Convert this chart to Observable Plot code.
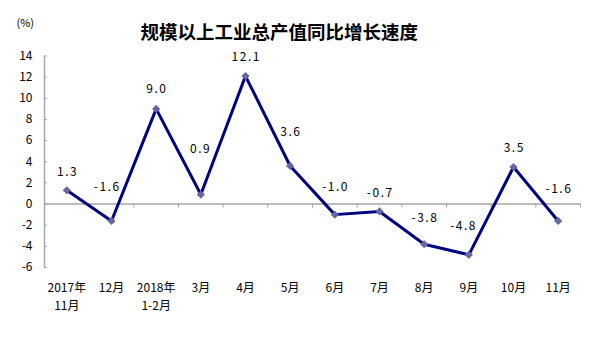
<!DOCTYPE html>
<html>
<head>
<meta charset="utf-8">
<script src="https://cdn.jsdelivr.net/npm/d3@7"></script>
<script src="https://cdn.jsdelivr.net/npm/@observablehq/plot@0.6"></script>
<style>
  html, body { margin: 0; padding: 0; background: #fff; }
</style>
</head>
<body>
<div id="chart"></div>
<script>
const title = "规模以上工业总产值同比增长速度";
const unitLabel = "(%)";
const categories = ["2017年\n11月", "12月", "2018年\n1-2月", "3月", "4月", "5月", "6月", "7月", "8月", "9月", "10月", "11月"];
const values = [1.3, -1.6, 9.0, 0.9, 12.1, 3.6, -1.0, -0.7, -3.8, -4.8, 3.5, -1.6];
const valueLabels = ["1.3", "-1.6", "9.0", "0.9", "12.1", "3.6", "-1.0", "-0.7", "-3.8", "-4.8", "3.5", "-1.6"];
const yTicks = [-6, -4, -2, 0, 2, 4, 6, 8, 10, 12, 14];

// label nudges (style only, pixels)
const labelDy = [-18, -34, -20, -45, -19, -34, -27, -18, -26, -29, -19, -32];
const labelDx = [0, -5, 0, -1, 0, 0, 0, 0, 0, -6, 0, 0];

const data = values.map((v, i) => ({i, pos: i + 0.5, value: v, label: valueLabels[i], cat: categories[i]}));
const boundaries = d3.range(0, categories.length + 1);

const font = "'Noto Sans CJK SC', 'DejaVu Sans', sans-serif";
const gray = "#a6a6a6";

const labelMarks = data.map((d, k) => Plot.text([d], {
  x: "pos", y: "value", text: "label",
  dy: labelDy[k], dx: labelDx[k] + 0.75,
  fontSize: 12, fill: "#000"
}));

const chart = Plot.plot({
  width: 599,
  height: 351,
  marginLeft: 44,
  marginRight: 19,
  marginTop: 55.5,
  marginBottom: 84,
  style: {fontFamily: font, background: "#fff", overflow: "visible"},
  x: {domain: [0, categories.length], axis: null},
  y: {domain: [-6, 14], axis: null},
  marks: [
    // y axis line and ticks
    Plot.ruleX([0], {stroke: gray, strokeWidth: 1.5}),
    Plot.ruleY(yTicks, {x1: 0, x2: 0, insetRight: -3, stroke: gray, strokeWidth: 1}),
    Plot.text(yTicks, {frameAnchor: "left", y: d => d, text: d => String(d), textAnchor: "end", dx: -12, fontSize: 12, fill: "#000"}),
    // x axis at zero
    Plot.ruleY([0], {stroke: gray, strokeWidth: 1.5}),
    Plot.ruleX(boundaries, {x: d => d, y1: 0, y2: 0, insetBottom: -4, stroke: gray, strokeWidth: 1}),
    Plot.text(data, {x: "pos", text: "cat", frameAnchor: "bottom", lineAnchor: "top", dy: 12, lineHeight: 1.5, fontSize: 12, fill: "#000"}),
    // series
    Plot.line(data, {x: "pos", y: "value", stroke: "#000080", strokeWidth: 3}),
    Plot.dot(data, {x: "pos", y: "value", symbol: "diamond2", r: 3.7, fill: "#6666a0", stroke: "none"}),
    ...labelMarks,
    // title and unit
    Plot.text([title], {frameAnchor: "top-left", textAnchor: "start", dx: 96, dy: -30.5, fontSize: 18.5, fontWeight: "bold", fill: "#000"}),
    Plot.text([unitLabel], {frameAnchor: "top-left", textAnchor: "start", dx: -28, dy: -36.5, fontSize: 11, fill: "#000"})
  ]
});
// wider spacing for the value labels, like the reference's font
d3.select(chart).selectAll("text")
  .filter(function() { return valueLabels.includes(this.textContent); })
  .style("letter-spacing", "1.5px");
document.getElementById("chart").appendChild(chart);
</script>
</body>
</html>
